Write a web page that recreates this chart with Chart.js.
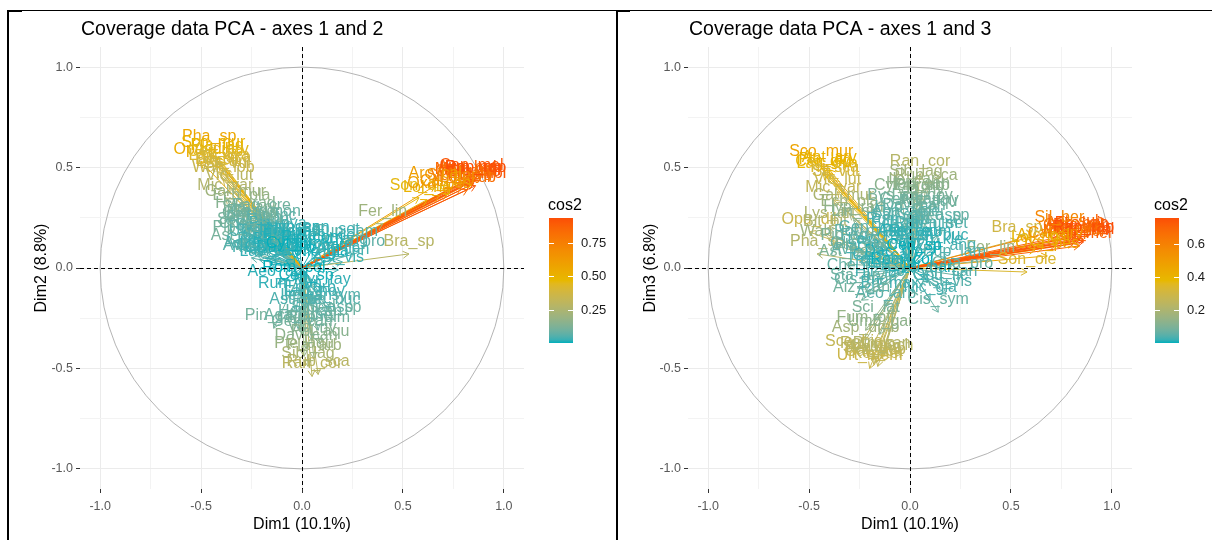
<!DOCTYPE html>
<html>
<head>
<meta charset="utf-8">
<title>Coverage data PCA</title>
<script src="https://cdn.jsdelivr.net/npm/chart.js@4/dist/chart.umd.min.js"></script>
<style>
  body { margin: 0; width: 1212px; height: 540px; background: #fff; position: relative; overflow: hidden; }
  .rule { position: absolute; background: #000; }
  canvas { position: absolute; }
</style>
</head>
<body>
<div class="rule" style="left:7px;top:10px;width:1205px;height:1px"></div>
<div class="rule" style="left:7px;top:10px;width:15px;height:2px"></div>
<div class="rule" style="left:7px;top:10px;width:2px;height:530px"></div>
<div class="rule" style="left:616px;top:10px;width:2px;height:530px"></div>
<div class="rule" style="left:616px;top:10px;width:14px;height:2px"></div>
<canvas id="pca12" width="607" height="529" style="left:9px;top:11px"></canvas>
<canvas id="pca13" width="594" height="529" style="left:618px;top:11px"></canvas>
<script>
// variable coordinates on the first three principal axes
const varNames = [
  // right-hand group
  'Bro_rub', 'Hor_mur', 'Ave_bar', 'Ger_mol', 'Med_pol', 'Ero_cic', 'Tri_arv', 'Gal_par', 'Cen_mel', 'Vul_myu', 'Lot_sub', 'Rap_rap',
  'Sil_ber', 'Arc_cal', 'Lol_rig', 'Son_ole', 'Fer_lin', 'Bra_sp', 'Cal_arv', 'Oxa_pes',
  // upper-left group
  'Pha_sp', 'Sco_mur', 'Opu_dil', 'Pla_lag', 'Cer_glo', 'Ant_arv', 'Lag_ova', 'Tri_sca', 'Lys_ari', 'Wah_lob', 'Sil_vul', 'Bit_bit', 'Mic_var', 'Vic_lut',
  'Gal_mur', 'Ech_pla', 'Hyp_rad', 'Sta_arv', 'Pla_cor', 'Lin_str', 'Pol_mon', 'Che_mur',
  // centre-left
  'Ast_pel', 'Sci_lat', 'Fum_off', 'Asp_umb', 'Sco_his', 'Pin_can', 'Gal_sca', 'Urt_mem', 'Par_deb', 'Ker_ter', 'Sen_inc', 'Cyn_ech', 'Rut_pin', 'Umb_gai',
  'Cis_mon', 'Aeo_arb', 'Ave_ste', 'Pip_coe', 'Hir_inc', 'Pla_ova', 'Gen_mon', 'Tee_lin', 'Sal_can', 'Bys_can', 'Rom_col', 'Dac_glo', 'Bri_max', 'Cen_cal',
  'Ech_str', 'Tra_por', 'Lav_can', 'Hyp_can', 'Cyt_pro', 'Aiz_can', 'Fag_cre', 'Glo_ala',
  // centre-right
  'Cal_ang', 'Cha_pro', 'Ast_vis', 'Sen_kle', 'Tol_bar', 'Opu_fic', 'Eup_lam', 'Nic_gla', 'Ric_com', 'Pen_set', 'Ari_can', 'Cis_sym',
  // lower group
  'Myr_fay', 'Rum_lun', 'Eri_arb', 'Lau_nov', 'Ile_can', 'Pte_aqu', 'Ran_cor', 'Rub_sca', 'Sib_lag', 'Dav_can', 'Vio_riv', 'Ger_can', 'Aga_ame', 'Hed_can',
  'Smi_asp', 'Rub_ulm', 'Sed_sp', 'Rum_buc', 'Cen_sp', 'Ast_hie', 'Pol_aqu', 'Pla_arb'
];

const dim1 = [
  0.85, 0.84, 0.82, 0.86, 0.81, 0.85, 0.83, 0.80, 0.84, 0.79, 0.82, 0.86,
  0.74, 0.66, 0.62, 0.58, 0.40, 0.53, 0.72, 0.68,
  -0.46, -0.44, -0.50, -0.42, -0.43, -0.40, -0.41, -0.38, -0.40, -0.39, -0.37, -0.42, -0.38, -0.36,
  -0.33, -0.30, -0.28, -0.26, -0.24, -0.27, -0.22, -0.25,
  -0.32, -0.17, -0.22, -0.22, -0.28, -0.14, -0.18, -0.20, -0.17, -0.16, -0.19, -0.14, -0.21, -0.15,
  -0.22, -0.12, -0.25, -0.30, -0.15, -0.12, -0.18, -0.10, -0.05, -0.06, -0.04, -0.08, -0.10, -0.14,
  -0.06, -0.18, -0.16, -0.02, -0.04, -0.24, -0.20, -0.26,
  0.18, 0.26, 0.18, 0.12, 0.08, 0.15, 0.22, 0.10, 0.05, 0.14, 0.20, 0.14,
  0.10, -0.06, 0.04, 0.06, 0.02, 0.01, 0.05, 0.08, 0.03, 0.02, 0.05, 0.00, -0.02, 0.04,
  0.10, 0.08, 0.16, 0.12, 0.02, -0.03, 0.09, 0.06
];

const dim2 = [
  0.44, 0.43, 0.44, 0.41, 0.43, 0.42, 0.41, 0.42, 0.45, 0.40, 0.39, 0.44,
  0.40, 0.41, 0.34, 0.35, 0.22, 0.07, 0.37, 0.36,
  0.59, 0.56, 0.53, 0.55, 0.52, 0.53, 0.50, 0.49, 0.47, 0.44, 0.46, 0.48, 0.35, 0.40,
  0.32, 0.30, 0.26, 0.24, 0.22, 0.20, 0.18, 0.16,
  0.10, 0.10, 0.14, 0.06, 0.18, -0.30, 0.05, 0.12, 0.08, 0.03, 0.15, 0.10, 0.04, 0.06,
  0.08, -0.08, 0.05, 0.14, 0.20, 0.16, 0.22, 0.12, 0.12, 0.14, -0.06, 0.04, 0.08, 0.04,
  0.10, 0.12, 0.02, 0.14, 0.06, 0.19, 0.25, 0.21,
  0.08, 0.07, -0.01, 0.10, 0.05, 0.04, 0.12, 0.02, 0.09, 0.13, 0.03, -0.20,
  -0.12, -0.14, -0.16, -0.18, -0.20, -0.44, -0.54, -0.53, -0.49, -0.40, -0.36, -0.33, -0.30, -0.28,
  -0.26, -0.31, -0.26, -0.22, -0.10, -0.22, -0.38, -0.45
];

const dim3 = [
  0.15, 0.14, 0.16, 0.13, 0.12, 0.16, 0.14, 0.15, 0.11, 0.13, 0.17, 0.14,
  0.19, 0.10, 0.09, -0.02, 0.04, 0.14, 0.11, 0.06,
  0.07, 0.52, 0.18, 0.48, 0.47, 0.49, 0.46, 0.44, 0.21, 0.12, 0.42, 0.17, 0.34, 0.38,
  0.30, 0.27, 0.24, -0.10, 0.05, 0.22, 0.12, -0.05,
  0.02, -0.26, -0.31, -0.36, -0.43, -0.44, -0.48, -0.50, -0.47, -0.49, -0.46, -0.45, -0.44, -0.33,
  -0.12, -0.19, 0.03, 0.10, -0.08, 0.06, 0.14, -0.04, 0.20, 0.30, -0.02, 0.02, -0.14, 0.00,
  0.16, -0.02, 0.08, 0.24, 0.35, -0.16, 0.10, 0.06,
  0.05, -0.04, -0.13, 0.08, -0.06, -0.10, 0.02, -0.16, 0.12, 0.16, -0.08, -0.22,
  0.28, 0.18, 0.35, 0.30, 0.38, 0.12, 0.47, 0.40, 0.42, 0.25, 0.33, 0.28, 0.22, 0.36,
  0.20, 0.16, 0.20, 0.10, 0.05, 0.12, 0.27, 0.35
];

const axisTicks = [-1, -0.75, -0.5, -0.25, 0, 0.25, 0.5, 0.75, 1];
const legendTicks12 = [0.25, 0.5, 0.75];
const legendTicks13 = [0.2, 0.4, 0.6];
const gradientCols = ['#00AFBB', '#E7B800', '#FC4E07'];

const FONT = '"Liberation Sans", Arial, sans-serif';
Chart.defaults.font.family = FONT;

// colour ramp interpolated in CIE Lab, like ggplot's gradientn
function toLab(hex) {
  const v = [1, 3, 5].map(i => parseInt(hex.slice(i, i + 2), 16) / 255)
    .map(c => c <= 0.04045 ? c / 12.92 : Math.pow((c + 0.055) / 1.055, 2.4));
  const X = (0.4124 * v[0] + 0.3576 * v[1] + 0.1805 * v[2]) / 0.95047;
  const Y = 0.2126 * v[0] + 0.7152 * v[1] + 0.0722 * v[2];
  const Z = (0.0193 * v[0] + 0.1192 * v[1] + 0.9505 * v[2]) / 1.08883;
  const f = t => t > 0.008856 ? Math.cbrt(t) : 7.787 * t + 16 / 116;
  return [116 * f(Y) - 16, 500 * (f(X) - f(Y)), 200 * (f(Y) - f(Z))];
}
function fromLab(L, a, b) {
  const fy = (L + 16) / 116, fx = fy + a / 500, fz = fy - b / 200;
  const inv = t => t * t * t > 0.008856 ? t * t * t : (t - 16 / 116) / 7.787;
  const X = inv(fx) * 0.95047, Y = inv(fy), Z = inv(fz) * 1.08883;
  const lin = [
    3.2406 * X - 1.5372 * Y - 0.4986 * Z,
    -0.9689 * X + 1.8758 * Y + 0.0415 * Z,
    0.0557 * X - 0.2040 * Y + 1.0570 * Z
  ];
  const rgb = lin.map(c => {
    c = Math.max(0, c);
    c = c <= 0.0031308 ? 12.92 * c : 1.055 * Math.pow(c, 1 / 2.4) - 0.055;
    return Math.round(Math.min(1, c) * 255);
  });
  return 'rgb(' + rgb.join(',') + ')';
}
const labStops = gradientCols.map(toLab);
function ramp(t) {
  t = Math.min(1, Math.max(0, t));
  const seg = t <= 0.5 ? 0 : 1;
  const u = t <= 0.5 ? t * 2 : (t - 0.5) * 2;
  const a = labStops[seg], b = labStops[seg + 1];
  return fromLab(a[0] + (b[0] - a[0]) * u, a[1] + (b[1] - a[1]) * u, a[2] + (b[2] - a[2]) * u);
}

const isMajor = v => Math.abs(v * 2 - Math.round(v * 2)) < 1e-9;

function axisOptions(horizontal, size) {
  return {
    type: 'linear',
    min: -1.1,
    max: 1.1,
    afterBuildTicks: ax => { ax.ticks = axisTicks.map(v => ({ value: v })); },
    afterFit: ax => { if (horizontal) ax.height = size; else ax.width = size; },
    grid: {
      color: c => isMajor(c.tick.value) ? '#EBEBEB' : '#F3F3F3',
      lineWidth: 1,
      tickLength: 4,
      tickColor: c => isMajor(c.tick.value) ? '#333333' : 'rgba(0,0,0,0)'
    },
    border: { display: false },
    ticks: {
      autoSkip: false,
      maxRotation: 0,
      padding: horizontal ? 6 : 3,
      color: '#595959',
      font: { size: 12.5 },
      callback: v => isMajor(v) ? v.toFixed(1) : ''
    }
  };
}

function pcaPanel(canvasId, dimY, cfg) {
  const cos2 = dim1.map((x, i) => x * x + dimY[i] * dimY[i]);
  const lo = Math.min(...cos2), hi = Math.max(...cos2);
  const cols = cos2.map(c => ramp((c - lo) / (hi - lo)));

  const extras = {
    id: 'pcaExtras',
    beforeDatasetsDraw(chart) {
      // correlation circle
      const { ctx, scales: { x, y } } = chart;
      const cx = x.getPixelForValue(0), cy = y.getPixelForValue(0);
      ctx.save();
      ctx.strokeStyle = '#ABABAB';
      ctx.lineWidth = 0.9;
      ctx.beginPath();
      ctx.ellipse(cx, cy, x.getPixelForValue(1) - cx, cy - y.getPixelForValue(1), 0, 0, Math.PI * 2);
      ctx.stroke();
      ctx.restore();
    },
    afterDatasetsDraw(chart) {
      const { ctx, chartArea: area, scales: { x, y } } = chart;
      const cx = x.getPixelForValue(0), cy = y.getPixelForValue(0);
      ctx.save();
      // open arrow heads
      ctx.lineWidth = 1;
      varNames.forEach((name, i) => {
        const px = x.getPixelForValue(dim1[i]), py = y.getPixelForValue(dimY[i]);
        const ang = Math.atan2(py - cy, px - cx);
        ctx.strokeStyle = cols[i];
        ctx.beginPath();
        ctx.moveTo(px - 7 * Math.cos(ang - Math.PI / 6), py - 7 * Math.sin(ang - Math.PI / 6));
        ctx.lineTo(px, py);
        ctx.lineTo(px - 7 * Math.cos(ang + Math.PI / 6), py - 7 * Math.sin(ang + Math.PI / 6));
        ctx.stroke();
      });
      // variable names just above the arrow tips
      ctx.font = '16px ' + FONT;
      ctx.textAlign = 'center';
      ctx.textBaseline = 'alphabetic';
      varNames.forEach((name, i) => {
        ctx.fillStyle = cols[i];
        ctx.fillText(name, x.getPixelForValue(dim1[i]), y.getPixelForValue(dimY[i]) - 8);
      });
      // dashed zero lines
      ctx.strokeStyle = '#000';
      ctx.lineWidth = 1;
      ctx.setLineDash([4, 3]);
      const zx = Math.round(cx) + 0.5, zy = Math.round(cy) + 0.5;
      ctx.beginPath();
      ctx.moveTo(area.left, zy);
      ctx.lineTo(area.right, zy);
      ctx.moveTo(zx, area.top);
      ctx.lineTo(zx, area.bottom);
      ctx.stroke();
      ctx.restore();
    },
    afterDraw(chart) {
      const { ctx, chartArea: area } = chart;
      ctx.save();
      ctx.fillStyle = '#000';
      ctx.font = '19.5px ' + FONT;
      ctx.textAlign = 'left';
      ctx.textBaseline = 'alphabetic';
      ctx.fillText(cfg.title, area.left + 1, 23.5);

      ctx.font = '16px ' + FONT;
      ctx.textAlign = 'center';
      ctx.fillText(cfg.xTitle, (area.left + area.right) / 2, 518);
      ctx.save();
      ctx.translate(36.5, (area.top + area.bottom) / 2);
      ctx.rotate(-Math.PI / 2);
      ctx.fillText(cfg.yTitle, 0, 0);
      ctx.restore();

      // cos2 colour bar
      const bl = cfg.barLeft, bw = 24, bt = 207, bb = 332;
      const grad = ctx.createLinearGradient(0, bb, 0, bt);
      for (let k = 0; k <= 40; k++) grad.addColorStop(k / 40, ramp(k / 40));
      ctx.fillStyle = grad;
      ctx.fillRect(bl, bt, bw, bb - bt);
      ctx.fillStyle = '#000';
      ctx.textAlign = 'left';
      ctx.fillText('cos2', bl - 1, 199);
      ctx.font = '13px ' + FONT;
      ctx.textBaseline = 'middle';
      ctx.strokeStyle = '#fff';
      ctx.lineWidth = 1;
      cfg.legendTicks.forEach(v => {
        const ty = Math.round(bb - (v - lo) / (hi - lo) * (bb - bt)) + 0.5;
        ctx.beginPath();
        ctx.moveTo(bl, ty); ctx.lineTo(bl + 5, ty);
        ctx.moveTo(bl + bw - 5, ty); ctx.lineTo(bl + bw, ty);
        ctx.stroke();
        ctx.fillStyle = '#1A1A1A';
        ctx.fillText(v.toFixed(cfg.legendDigits), bl + bw + 8, ty);
      });
      ctx.restore();
    }
  };

  return new Chart(document.getElementById(canvasId), {
    type: 'scatter',
    data: {
      datasets: varNames.map((name, i) => ({
        label: name,
        data: [{ x: 0, y: 0 }, { x: dim1[i], y: dimY[i] }],
        showLine: true,
        borderColor: cols[i],
        borderWidth: 1,
        pointRadius: 0,
        pointHoverRadius: 0
      }))
    },
    options: {
      responsive: false,
      animation: false,
      devicePixelRatio: 1,
      events: [],
      layout: { padding: { left: 0, top: 36, right: cfg.padRight, bottom: 0 } },
      plugins: {
        legend: { display: false },
        tooltip: { enabled: false },
        title: { display: false }
      },
      scales: {
        x: axisOptions(true, 51),
        y: axisOptions(false, cfg.yWidth)
      }
    },
    plugins: [extras]
  });
}

pcaPanel('pca12', dim2, {
  title: 'Coverage data PCA - axes 1 and 2',
  xTitle: 'Dim1 (10.1%)',
  yTitle: 'Dim2 (8.8%)',
  legendTicks: legendTicks12,
  legendDigits: 2,
  barLeft: 540,
  yWidth: 71,
  padRight: 92
});

pcaPanel('pca13', dim3, {
  title: 'Coverage data PCA - axes 1 and 3',
  xTitle: 'Dim1 (10.1%)',
  yTitle: 'Dim3 (6.8%)',
  legendTicks: legendTicks13,
  legendDigits: 1,
  barLeft: 537,
  yWidth: 70,
  padRight: 80
});
</script>
</body>
</html>
